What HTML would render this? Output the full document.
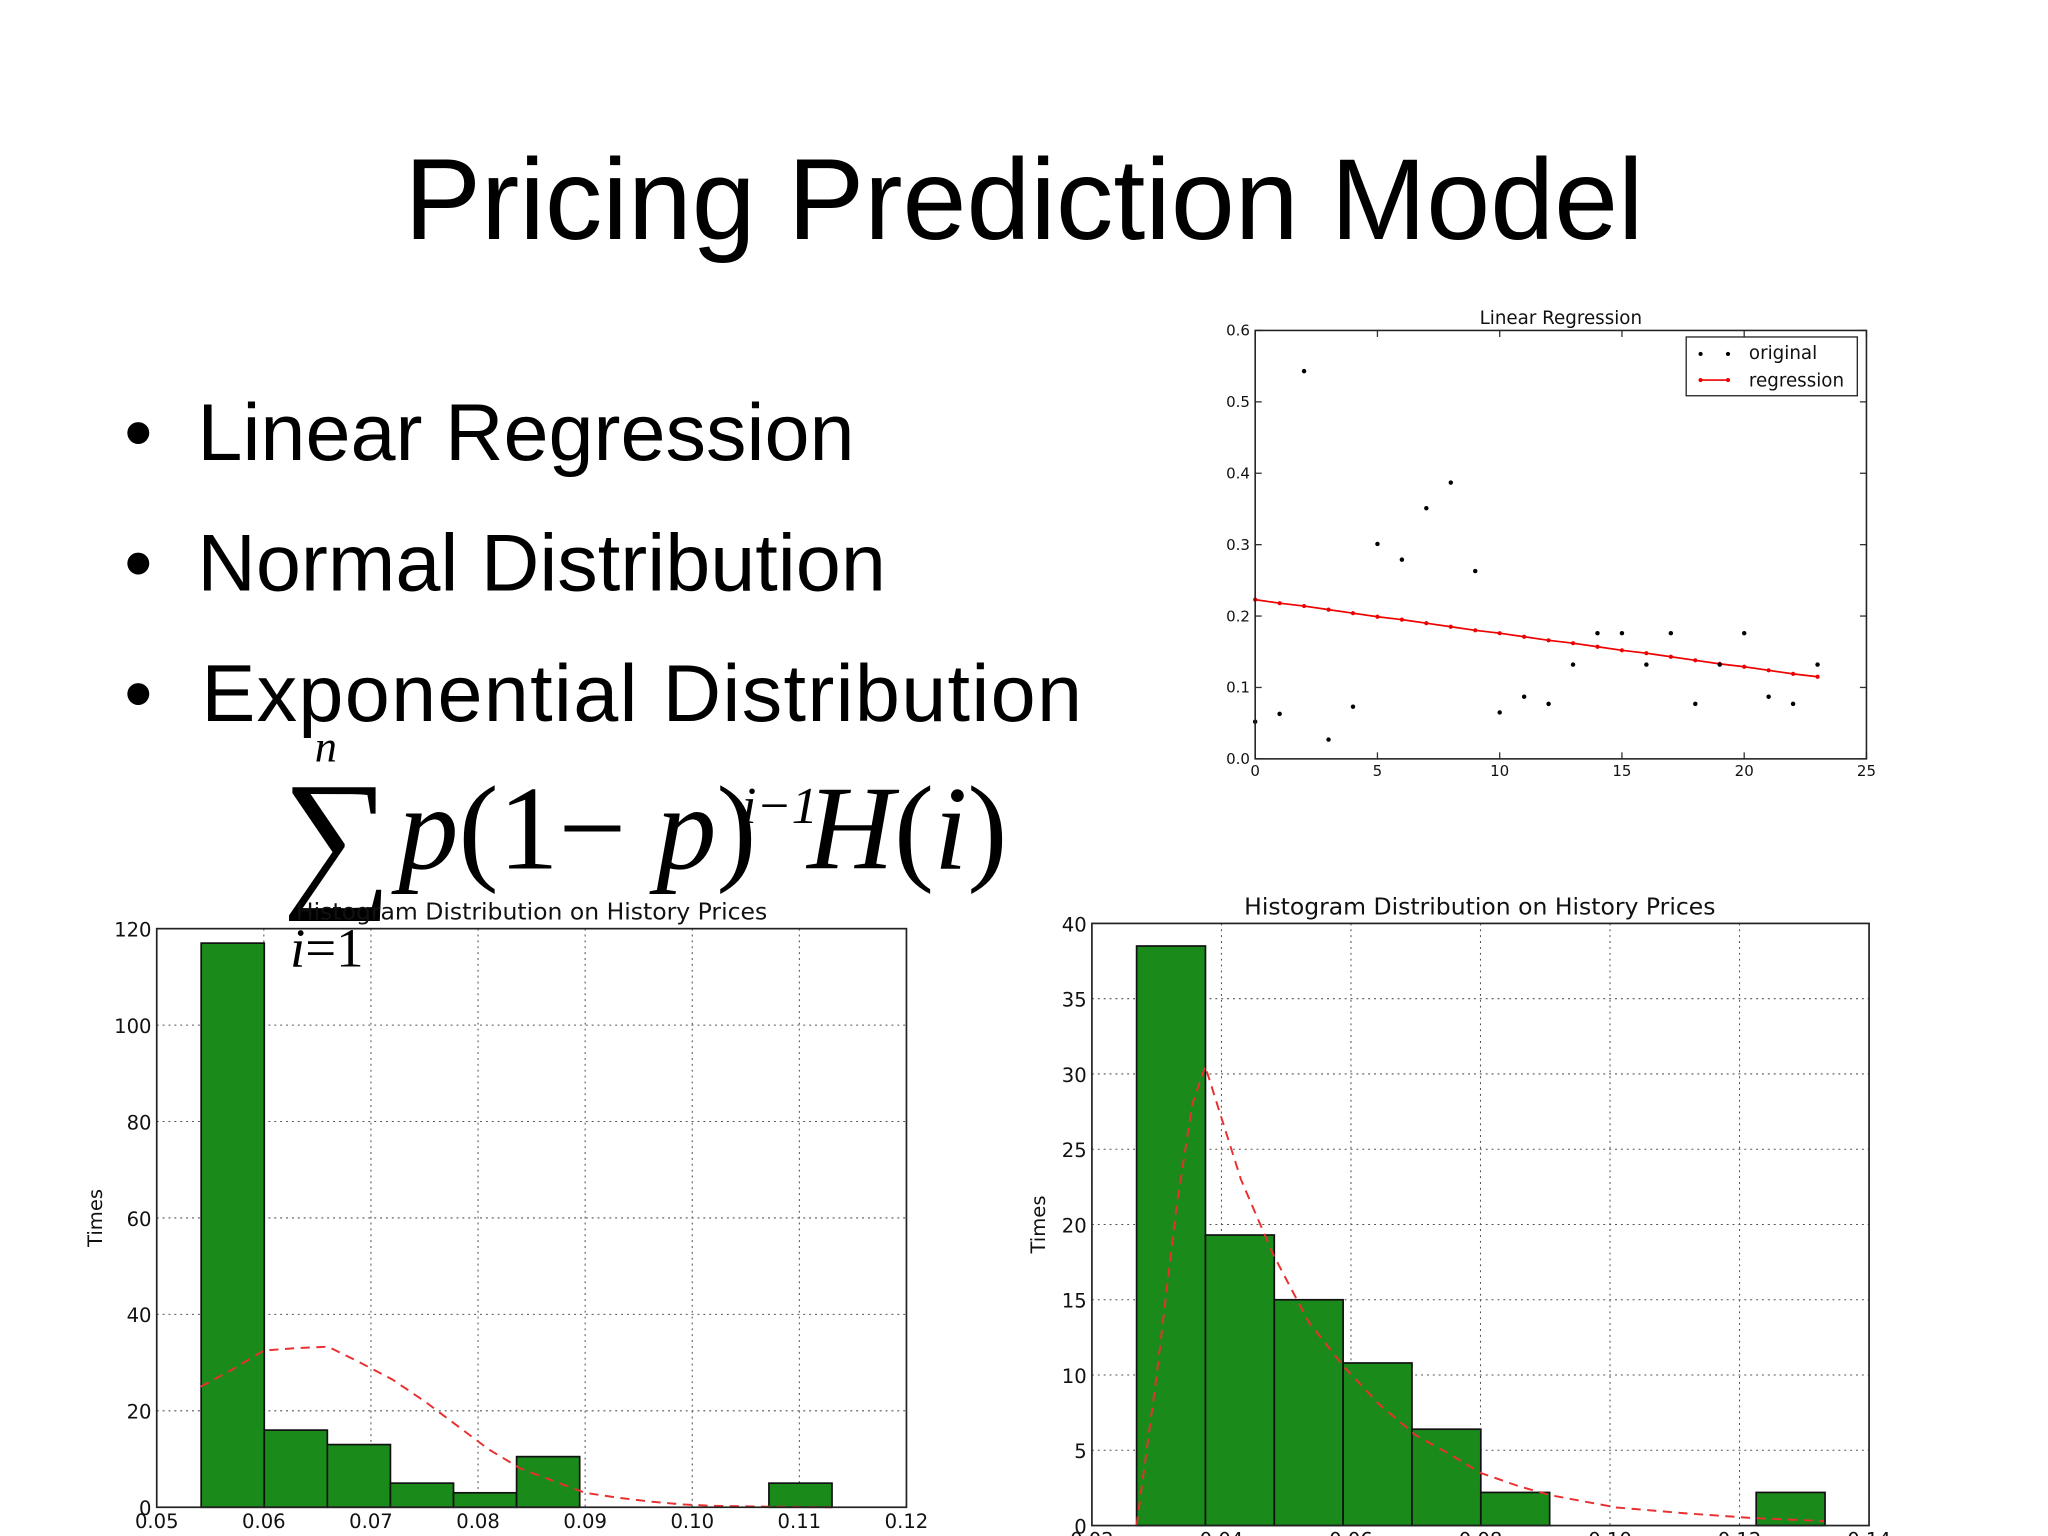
<!DOCTYPE html>
<html><head><meta charset="utf-8"><style>
html,body{margin:0;padding:0;background:#fff;}
svg{display:block;}
.s{font-family:"DejaVu Sans","Liberation Sans",sans-serif;}
</style></head><body>
<svg id="root" width="2048" height="1536" viewBox="0 0 1568 1176" xmlns="http://www.w3.org/2000/svg">
<rect width="1568" height="1176" fill="#fff"/>
<text x="784" y="183" text-anchor="middle" font-family="Liberation Sans, sans-serif" font-size="88" fill="#000">Pricing Prediction Model</text>
<g font-family="Liberation Sans, sans-serif" font-size="62" fill="#000">
<text x="95" y="352">•&#160;&#160;Linear Regression</text>
<text x="95" y="452">•&#160;&#160;Normal Distribution</text>
<text x="95" y="552" letter-spacing="1">•&#160;&#160;Exponential Distribution</text>
</g>
<g font-family="Liberation Serif, serif" fill="#000">
<text x="241" y="583" font-size="34" font-style="italic">n</text>
<text x="216" y="680" font-size="118">∑</text>
<text x="305" y="665" font-size="92"><tspan font-style="italic">p</tspan>(1− <tspan font-style="italic">p</tspan>)</text>
<text x="568" y="630" font-size="40" font-style="italic">i−1</text>
<text x="618" y="665" font-size="92"><tspan font-style="italic">H</tspan>(<tspan font-style="italic">i</tspan>)</text>
<text x="222" y="740" font-size="42"><tspan font-style="italic">i</tspan>=1</text>
</g>
<g id="lr"></g>
<g id="h1"></g>
<g id="h2"></g>
</svg>
<script>
const NS="http://www.w3.org/2000/svg";
function mk(p,t,a,txt){const e=document.createElementNS(NS,t);for(const k in a)e.setAttribute(k,a[k]);if(txt!==undefined)e.textContent=txt;p.appendChild(e);return e;}

// Linear regression data
const lrX=[0,1,2,3,4,5,6,7,8,9,10,11,12,13,14,15,16,17,18,19,20,21,22,23];
const lrOriginal=[0.052,0.063,0.543,0.027,0.073,0.301,0.279,0.351,0.387,0.263,0.065,0.087,0.077,0.132,0.176,0.176,0.132,0.176,0.077,0.132,0.176,0.087,0.077,0.132];
const lrRegression=[0.223,0.218,0.214,0.209,0.204,0.199,0.195,0.190,0.185,0.180,0.176,0.171,0.166,0.162,0.157,0.152,0.148,0.143,0.138,0.133,0.129,0.124,0.119,0.115];
const lrXTicks=[0,5,10,15,20,25];
const lrYTicks=["0.0","0.1","0.2","0.3","0.4","0.5","0.6"];

// Left histogram
const h1Edges=[0.05415,0.06004,0.06593,0.07182,0.07771,0.0836,0.08949,0.09538,0.10127,0.10716,0.11305];
const h1Counts=[117,16,13,5,3,10.5,0,0,0,5];
const h1CurveX=[0.0541,0.057,0.060,0.063,0.066,0.069,0.072,0.075,0.078,0.081,0.084,0.087,0.090,0.093,0.096,0.099,0.102,0.105,0.108,0.113];
const h1CurveY=[25,28.5,32.5,33,33.3,30,26.5,22,17,12,8,5.5,3,2,1.2,0.6,0.3,0.2,0.1,0];
const h1XTicks=["0.05","0.06","0.07","0.08","0.09","0.10","0.11","0.12"];
const h1YTicks=[0,20,40,60,80,100,120];

// Right histogram
const h2Edges=[0.0269,0.03753,0.04816,0.05879,0.06942,0.08005,0.09068,0.10131,0.11194,0.12257,0.1332];
const h2Counts=[38.5,19.3,15,10.8,6.4,2.2,0,0,0,2.2];
const h2CurveX=[0.0269,0.0300,0.0330,0.0355,0.0375,0.0430,0.0480,0.0535,0.0590,0.0645,0.0700,0.0750,0.0800,0.0860,0.0910,0.1010,0.1120,0.1220,0.1330];
const h2CurveY=[0,10,21,28,30.5,23,18,13.5,10.5,8,6,4.8,3.5,2.6,2,1.2,0.8,0.5,0.3];
const h2XTicks=["0.02","0.04","0.06","0.08","0.10","0.12","0.14"];
const h2YTicks=[0,5,10,15,20,25,30,35,40];

// ---- Linear regression chart
(function(){
const g=document.getElementById('lr');
const L=961,R=1429,T=253,B=581;
const sx=v=>L+(v-0)/25*(R-L), sy=v=>B-(v/0.6)*(B-T);
mk(g,'text',{x:1195,y:248,'text-anchor':'middle','font-size':14,class:'s',fill:'#111',},'Linear Regression');
lrYTicks.forEach(t=>{const y=sy(+t);
 const e=mk(g,'text',{x:L-4,y:y+4,'text-anchor':'end','font-size':11.5,class:'s',fill:'#111'},t);
 
 mk(g,'line',{x1:L,x2:L+5,y1:y,y2:y,stroke:'#333'});mk(g,'line',{x1:R,x2:R-5,y1:y,y2:y,stroke:'#333'});});
lrXTicks.forEach(t=>{const x=sx(t);
 const e=mk(g,'text',{x:x,y:B+13,'text-anchor':'middle','font-size':11.5,class:'s',fill:'#111'},t);
 
 mk(g,'line',{x1:x,x2:x,y1:B,y2:B-5,stroke:'#333'});mk(g,'line',{x1:x,x2:x,y1:T,y2:T+5,stroke:'#333'});});
mk(g,'polyline',{points:lrX.map((x,i)=>sx(x)+','+sy(lrRegression[i])).join(' '),fill:'none',stroke:'#e00',"stroke-width":1.3,});
lrX.forEach((x,i)=>{const c=mk(g,'circle',{cx:sx(x),cy:sy(lrRegression[i]),r:1.6,fill:'#e00'});
 });
lrX.forEach((x,i)=>{const c=mk(g,'circle',{cx:sx(x),cy:sy(lrOriginal[i]),r:1.7,fill:'#000'});
 });
mk(g,'rect',{x:L,y:T,width:R-L,height:B-T,fill:'none',stroke:'#222','stroke-width':1.2,});
const lg=mk(g,'g',{});
mk(lg,'rect',{x:1291,y:258,width:131,height:45,fill:'#fff',stroke:'#222'});
mk(lg,'circle',{cx:1302,cy:271,r:1.6,fill:'#000'});mk(lg,'circle',{cx:1323,cy:271,r:1.6,fill:'#000'});
mk(lg,'text',{x:1339,y:275,'font-size':14,class:'s',fill:'#111',},'original');
mk(lg,'line',{x1:1302,x2:1323,y1:291,y2:291,stroke:'#e00','stroke-width':1.3});
mk(lg,'circle',{cx:1302,cy:291,r:1.6,fill:'#e00'});mk(lg,'circle',{cx:1323,cy:291,r:1.6,fill:'#e00'});
mk(lg,'text',{x:1339,y:296,'font-size':14,class:'s',fill:'#111',},'regression');
})();

function hist(id,L,R,T,B,xmin,xmax,ymax,edges,counts,cx,cy,xt,yt,title,titleX,titleY,ylabX){
const g=document.getElementById(id);
const sx=v=>L+(v-xmin)/(xmax-xmin)*(R-L), sy=v=>B-v/ymax*(B-T);
const tt=mk(g,'text',{x:titleX,y:titleY,'text-anchor':'middle','font-size':18,class:'s',fill:'#111'},title);

const yl=mk(g,'text',{x:ylabX,y:(T+B)/2,'text-anchor':'middle','font-size':15,class:'s',fill:'#111',transform:`rotate(-90 ${ylabX} ${(T+B)/2})`},'Times');

yt.forEach(t=>{const y=sy(t);
 mk(g,'line',{x1:L,x2:R,y1:y,y2:y,stroke:'#555','stroke-width':0.8,'stroke-dasharray':'1.5,3'});
 const e=mk(g,'text',{x:L-4,y:y+6,'text-anchor':'end','font-size':15,class:'s',fill:'#111'},t);
 });
xt.forEach(t=>{const x=sx(+t);
 mk(g,'line',{x1:x,x2:x,y1:T,y2:B,stroke:'#555','stroke-width':0.8,'stroke-dasharray':'1.5,3'});
 const e=mk(g,'text',{x:x,y:B+16,'text-anchor':'middle','font-size':15,class:'s',fill:'#111'},t);
 });
counts.forEach((c,i)=>{if(c<=0)return;const x0=sx(edges[i]),x1=sx(edges[i+1]);
 const r=mk(g,'rect',{x:x0,y:sy(c),width:x1-x0,height:B-sy(c),fill:'#1a8a1a',stroke:'#111','stroke-width':1.3});
 });
const p=mk(g,'polyline',{points:cx.map((x,i)=>sx(x)+','+sy(cy[i])).join(' '),fill:'none',stroke:'#e83030','stroke-width':1.5,'stroke-dasharray':'7,5'});

mk(g,'rect',{x:L,y:T,width:R-L,height:B-T,fill:'none',stroke:'#222','stroke-width':1.3});
}
hist('h1',120,694,711,1154,0.05,0.12,120,h1Edges,h1Counts,h1CurveX,h1CurveY,h1XTicks,h1YTicks,'Histogram Distribution on History Prices',407,704,78);
hist('h2',836,1431,707,1168,0.02,0.14,40,h2Edges,h2Counts,h2CurveX,h2CurveY,h2XTicks,h2YTicks,'Histogram Distribution on History Prices',1133,700,800);
</script>
</body></html>
